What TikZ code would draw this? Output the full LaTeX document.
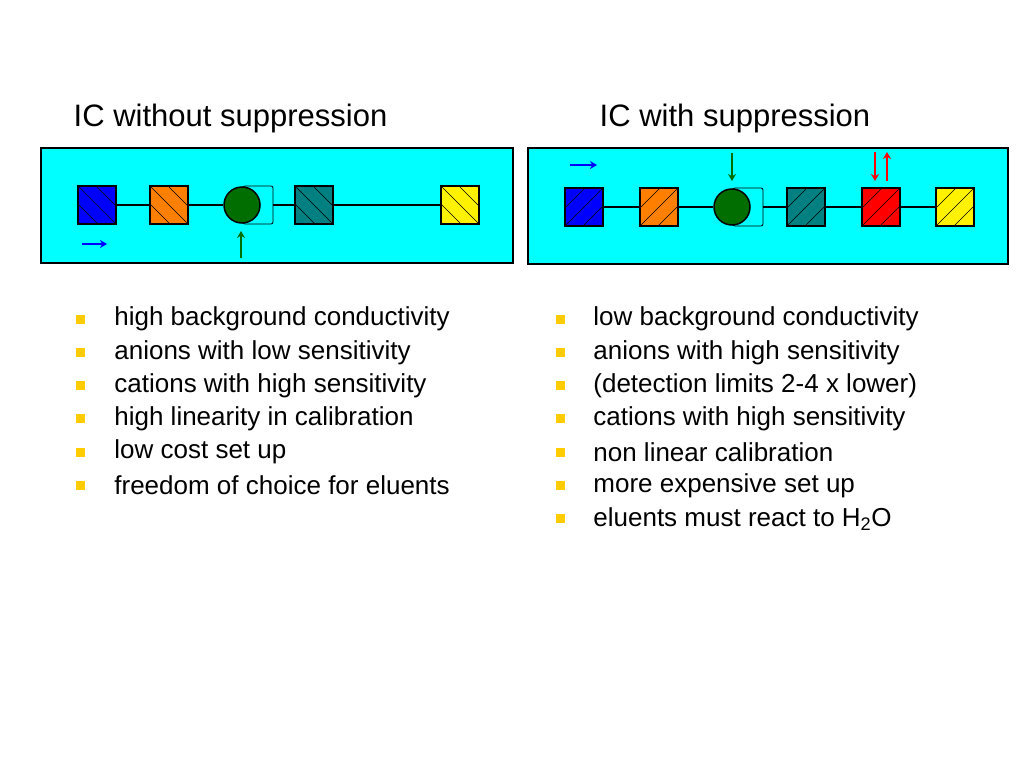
\documentclass[tikz,border=0pt]{standalone}
\usepackage{fontspec}
\setmainfont{Liberation Sans}
\usetikzlibrary{arrows,arrows.meta,positioning}
\definecolor{cyanbg}{RGB}{0,255,255}
\definecolor{tealc}{RGB}{0,128,128}
\definecolor{orangec}{RGB}{255,128,0}
\definecolor{greenc}{RGB}{0,110,0}
\definecolor{bulletc}{RGB}{255,204,0}
\newcommand{\hatchbox}[2]{% node, direction
  \begin{scope}
    \clip (#1.south west) rectangle (#1.north east);
    \foreach \d in {-36,-18,0,18,36}
      \draw[thin] ([xshift=\d pt]#1.center) ++(-25*#2,-25) -- ++(50*#2,50);
  \end{scope}}
\begin{document}
\begin{tikzpicture}[x=1pt,y=-1pt,>=stealth',thick,
    unit/.style={draw,minimum size=38pt,inner sep=0pt,line width=1.5pt},
    detector/.style={circle,draw,fill=greenc,minimum size=36pt,inner sep=0pt,line width=1.5pt},
    cell/.style={draw,rounded corners=2pt,fill=cyanbg,minimum width=30pt,minimum height=38pt,inner sep=0pt},
    panel/.style={draw,fill=cyanbg,line width=1.2pt},
    flow/.style={-{Stealth[length=7pt,width=8pt]},line width=2.5pt},
    title/.style={anchor=west,font=\fontsize{31}{36}\selectfont},
    item/.style={anchor=west,font=\fontsize{26}{30}\selectfont,inner sep=0pt},
    bullet/.style={fill=bulletc,minimum size=9pt,inner sep=0pt}]
  \useasboundingbox (0,0) rectangle (1024,768);
  \node[title] at (70,118) {IC without suppression};
  \node[title] at (596,118) {IC with suppression};
  % left panel
  \draw[panel] (41,148) rectangle (513,263);
  \node[unit,fill=blue] (lpump) at (97,205) {};
  \node[unit,fill=orangec] (lcol) at (169,205) {};
  \node[cell] (lcell) at (258,205) {};
  \node[detector] (ldet) at (242,205) {};
  \node[unit,fill=tealc] (lsep) at (314,205) {};
  \node[unit,fill=yellow] (lrec) at (460,205) {};
  \draw[line width=1.5pt] (lpump) -- (lcol) (lcol) -- (ldet) (lcell.east) -- (lsep) (lsep) -- (lrec);
  \foreach \n in {lpump,lcol,lsep,lrec} {\hatchbox{\n}{1}}
  \draw[flow,blue] (82,244) -- (107,244);
  \draw[flow,greenc] (241,258) -- (241,231);
  % right panel
  \draw[panel] (528,148) rectangle (1008,264);
  \node[unit,fill=blue] (rpump) at (584,207) {};
  \node[unit,fill=orangec] (rcol) at (659,207) {};
  \node[cell] (rcell) at (748,207) {};
  \node[detector] (rdet) at (732,207) {};
  \node[unit,fill=tealc] (rsep) at (806,207) {};
  \node[unit,fill=red] (rsup) at (881,207) {};
  \node[unit,fill=yellow] (rrec) at (955,207) {};
  \draw[line width=1.5pt] (rpump) -- (rcol) (rcol) -- (rdet) (rcell.east) -- (rsep) (rsep) -- (rsup) (rsup) -- (rrec);
  \foreach \n in {rpump,rcol,rsep,rsup,rrec} {\hatchbox{\n}{-1}}
  \draw[flow,blue] (570,165) -- (597,165);
  \draw[flow,greenc] (732,153) -- (732,181);
  \draw[flow,red] (875,152) -- (875,181);
  \draw[flow,red] (887,181) -- (887,152);
  % bullet lists
  \foreach \t [count=\i] in {high background conductivity,anions with low sensitivity,
      cations with high sensitivity,high linearity in calibration,low cost set up,
      freedom of choice for eluents} {
    \node[bullet] at (80,319+33.3*\i-33.3) {};
    \node[item] at (114,319+33.3*\i-33.3) {\t};
  }
  \foreach \t [count=\i] in {low background conductivity,anions with high sensitivity,
      (detection limits 2-4 x lower),cations with high sensitivity,non linear calibration,
      more expensive set up,eluents must react to H\textsubscript{2}O} {
    \node[bullet] at (560,319+33.3*\i-33.3) {};
    \node[item] at (593,319+33.3*\i-33.3) {\t};
  }
\end{tikzpicture}
\end{document}
